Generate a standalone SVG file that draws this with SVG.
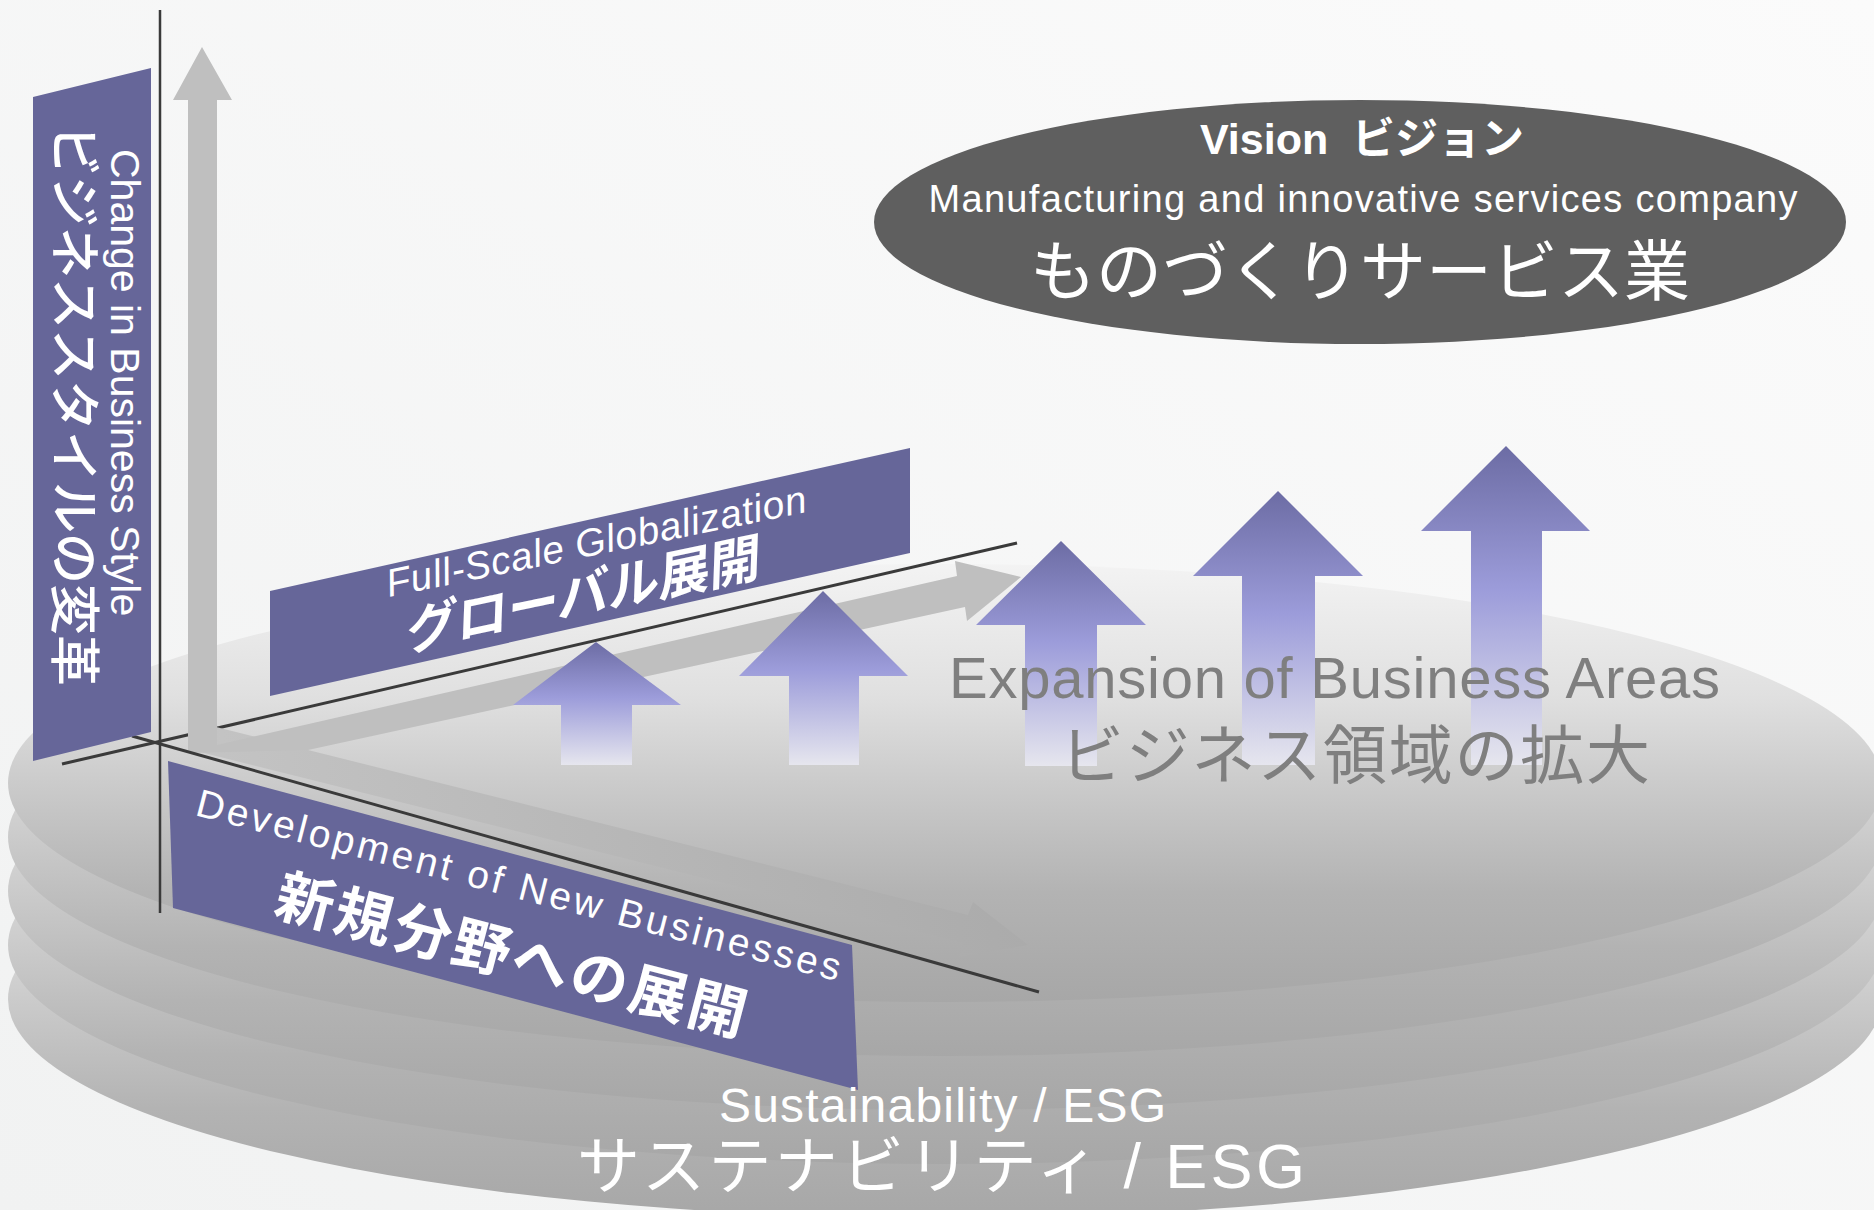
<svg xmlns="http://www.w3.org/2000/svg" width="1874" height="1210" viewBox="0 0 1874 1210">
<defs>
  <linearGradient id="bg" x1="0" y1="1" x2="1" y2="0">
    <stop offset="0" stop-color="#f1f2f2"/>
    <stop offset="1" stop-color="#fbfbfb"/>
  </linearGradient>
  <linearGradient id="disc" x1="0" y1="0" x2="0" y2="1">
    <stop offset="0" stop-color="#f3f3f3"/>
    <stop offset="0.3" stop-color="#e0e0e0"/>
    <stop offset="0.5" stop-color="#cbcbcb"/>
    <stop offset="0.75" stop-color="#b3b3b3"/>
    <stop offset="1" stop-color="#a7a7a7"/>
  </linearGradient>
  <linearGradient id="up" x1="0" y1="0" x2="0" y2="1">
    <stop offset="0" stop-color="#6c6ca4"/>
    <stop offset="0.45" stop-color="#9c9cda"/>
    <stop offset="1" stop-color="#e6e6ee"/>
  </linearGradient>
  <linearGradient id="dr" x1="0" y1="0" x2="1" y2="0">
    <stop offset="0" stop-color="#c4c4c4"/>
    <stop offset="1" stop-color="#ababab"/>
  </linearGradient>
</defs>
<style>
  .panel{fill:#666699}
  .axis{stroke:#3a3a3a;stroke-width:3;fill:none}
  .disc{fill:url(#disc)}
  .uparrow{fill:url(#up)}
  .w{fill:#ffffff}
  .g{fill:#7f7f7f}
  .lat{font-family:'Liberation Sans','Noto Sans CJK JP',sans-serif}
  .jp{font-family:'Noto Sans CJK JP',sans-serif}
</style>
<rect x="0" y="0" width="1874" height="1210" fill="url(#bg)"/>

<g id="discs">
  <ellipse class="disc" cx="945" cy="999" rx="937" ry="219"/>
  <ellipse class="disc" cx="945" cy="945" rx="937" ry="219"/>
  <ellipse class="disc" cx="945" cy="891" rx="937" ry="219"/>
  <ellipse class="disc" cx="945" cy="837" rx="937" ry="219"/>
  <ellipse class="disc" cx="945" cy="783" rx="937" ry="219"/>
</g>

<g id="connectors">
  <line class="axis" x1="62" y1="764" x2="1017" y2="543"/>
  <polygon id="arrow-new" fill="url(#dr)" points="188,720 968,915 973,902 1028,945 959,957 963,943 188,749"/>
  <polygon id="arrow-up-global" fill="#bfbfbf" points="202,47 232,100 217,100 217,745 957,576 955,561 1021,577 967,621 965,607 308,750 188,753 188,100 173,100"/>
  <line class="axis" x1="132" y1="736" x2="1039" y2="992"/>
  <line class="axis" x1="160" y1="10" x2="160" y2="913" style="stroke-width:2.5"/>
</g>

<g id="node-style">
  <polygon class="panel" points="33,97 151,68 151,732 33,761"/>
  <text class="w lat" font-size="41" transform="translate(111,149) rotate(90)">Change in Business Style</text>
  <text class="w jp" font-size="51" font-weight="500" textLength="561" transform="translate(56,125) rotate(90)">ビジネススタイルの変革</text>
</g>

<g id="node-global">
  <polygon class="panel" points="270,591 910,448 910,553 270,696"/>
  <text class="w lat" font-size="39" font-style="italic" textLength="428" transform="translate(389,597) rotate(-11.5)">Full-Scale Globalization</text>
  <text class="w jp" font-size="52" font-weight="bold" font-style="italic" textLength="362" transform="translate(406,651) rotate(-12)">グローバル展開</text>
</g>

<g id="node-new">
  <polygon class="panel" points="168,761 852,945 858,1090 173,908"/>
  <text class="w lat" font-size="39" textLength="664" transform="translate(194,815) rotate(14.5)">Development of New Businesses</text>
  <text class="w jp" font-size="58" font-weight="bold" textLength="484" transform="translate(272,914) rotate(14.7)">新規分野への展開</text>
</g>

<g id="up-arrows">
  <path class="uparrow" d="M596,642 L681,705 L632,705 L632,765 L561,765 L561,705 L513,705 Z"/>
  <path class="uparrow" d="M823,591 L908,676 L859,676 L859,765 L789,765 L789,676 L739,676 Z"/>
  <path class="uparrow" d="M1061,541 L1146,625 L1097,625 L1097,766 L1025,766 L1025,625 L976,625 Z"/>
  <path class="uparrow" d="M1278,491 L1363,576 L1315,576 L1315,765 L1242,765 L1242,576 L1193,576 Z"/>
  <path class="uparrow" d="M1506,446 L1590,531 L1542,531 L1542,765 L1471,765 L1471,531 L1421,531 Z"/>
</g>

<g id="node-expansion">
  <text class="g lat" x="949" y="698" font-size="58" textLength="771">Expansion of Business Areas</text>
  <text class="g jp" x="1060" y="778" font-size="64" textLength="590">ビジネス領域の拡大</text>
</g>

<g id="node-vision">
  <ellipse cx="1360" cy="222" rx="486" ry="122" fill="#5f5f5f"/>
  <text class="w lat" x="1362" y="154" font-size="43" font-weight="bold" text-anchor="middle" xml:space="preserve">Vision  ビジョン</text>
  <text class="w lat" x="1363" y="212" font-size="38" text-anchor="middle" textLength="869">Manufacturing and innovative services company</text>
  <text class="w jp" x="1360" y="295" font-size="66" text-anchor="middle">ものづくりサービス業</text>
</g>

<g id="node-sustainability">
  <text class="w lat" x="719" y="1122" font-size="48" textLength="447">Sustainability / ESG</text>
  <text class="w lat" x="577" y="1188" font-size="63" textLength="728">サステナビリティ / ESG</text>
</g>
</svg>
